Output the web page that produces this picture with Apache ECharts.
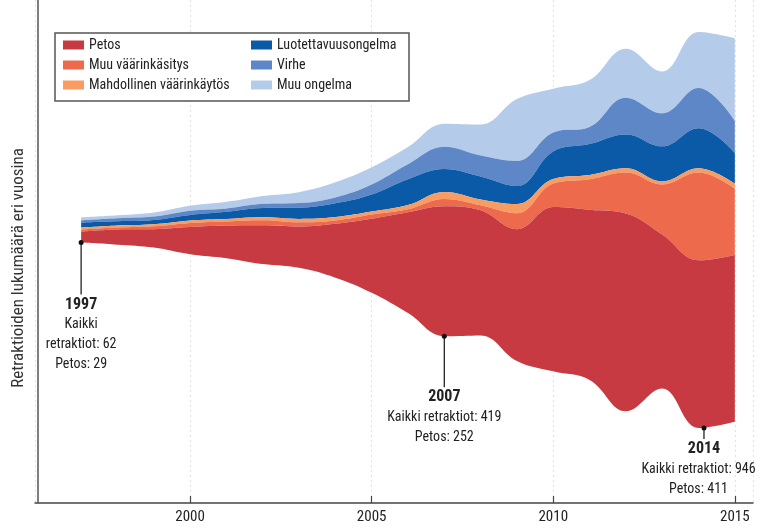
<!DOCTYPE html>
<html><head><meta charset="utf-8">
<script src="https://cdn.jsdelivr.net/npm/echarts@6/dist/echarts.min.js"></script>
<style>html,body{margin:0;padding:0;background:#fff}#c{width:761px;height:531px}</style>
</head><body><div id="c"></div>
<script>
// ---- data ----
const years = [1997,1998,1999,2000,2001,2002,2003,2004,2005,2006,2007,2008,2009,2010,2011,2012,2013,2014,2015];
// layers listed top -> bottom of the stream
const muuOngelma          = [7, 7, 10, 12, 16, 19, 26, 36, 41, 41, 55, 74, 148, 105, 112, 117, 100, 134, 198];
const virhe               = [5, 7, 8, 10, 8, 10, 11, 14, 24, 36, 53, 50, 60, 45, 41, 88, 79, 96, 76];
const luotettavuus        = [12, 10, 10, 13, 17, 22, 27, 33, 41, 62, 55, 55, 43, 66, 74, 81, 84, 96, 74];
const mahdollinen         = [5, 5, 5, 6, 6, 7, 8, 8, 7, 10, 17, 14, 22, 11, 10, 10, 7, 10, 12];
const muuVaarinkasitys    = [5, 5, 7, 10, 10, 12, 10, 8, 10, 7, 17, 12, 38, 56, 73, 98, 120, 210, 158];
const petos               = [26, 36, 44, 65, 78, 93, 99, 129, 177, 241, 311, 299, 315, 393, 407, 473, 368, 401, 399];
const layerNames = ['Muu ongelma','Virhe','Luotettavuusongelma','Mahdollinen väärinkäytös','Muu väärinkäsitys','Petos'];
const layerColors = ['#b5cbea','#5d87c6','#0b5aa8','#f89c62','#ee6a4c','#c73a41'];
const legendCol1 = ['Petos','Muu väärinkäsitys','Mahdollinen väärinkäytös'];
const legendCol2 = ['Luotettavuusongelma','Virhe','Muu ongelma'];
const annotations = [
  {year: 1997, at: 1997, title: '1997', lines: ['Kaikki', 'retraktiot: 62', 'Petos: 29'], stem: 52},
  {year: 2007, at: 2007, title: '2007', lines: ['Kaikki retraktiot: 419', 'Petos: 252'], stem: 51},
  {year: 2014, at: 2014.15, textAt: 2014.0, title: '2014', lines: ['Kaikki retraktiot: 946', 'Petos: 411'], stem: 11}
];
const yTitle = 'Retraktioiden lukumäärä eri vuosina';

// ---- build ----
const layers = [muuOngelma, virhe, luotettavuus, mahdollinen, muuVaarinkasitys, petos];
const riverData = [];
layers.forEach((vals, li) => vals.forEach((v, i) => riverData.push([years[i], v, layerNames[li]])));

const FONT = "'Roboto Condensed','Liberation Sans',sans-serif";
const axisLeft = 35, axisRight = 8, axisTop = 0, axisBottom = 28;
const W = 761, H = 531;
const axisHeight = H - axisTop - axisBottom;
const gapTop = 32, gapBottom = 75;
const xMin = 1995.73, xMax = 2015.5;

const chart = echarts.init(document.getElementById('c'), null, {renderer: 'canvas'});
const legendBase = {orient: 'vertical', top: 38, padding: 0, itemWidth: 21, itemHeight: 9, itemGap: 6,
  icon: 'rect', selectedMode: false, z: 10, textStyle: {fontFamily: FONT, fontSize: 14, color: '#222'}};
const option = {
  animation: false,
  backgroundColor: '#fff',
  color: layerColors,
  textStyle: {fontFamily: FONT},
  singleAxis: {
    type: 'value', left: axisLeft, right: axisRight, top: axisTop, bottom: axisBottom,
    min: xMin, max: xMax, splitNumber: 4,
    axisLine: {show: true, lineStyle: {color: '#444', width: 1.5}},
    axisTick: {show: true, inside: true, length: 7, lineStyle: {color: '#444', width: 1.2}},
    axisLabel: {showMinLabel: false, showMaxLabel: false, margin: 7, color: '#222', fontSize: 15, fontFamily: FONT,
      formatter: v => String(Math.round(v))},
    splitLine: {show: true, showMinLine: false, showMaxLine: false, lineStyle: {color: '#6a6a6a', width: 1, type: [2, 3]}}
  },
  legend: [
    Object.assign({data: legendCol1, left: 63}, legendBase),
    Object.assign({data: legendCol2, left: 251}, legendBase)
  ],
  series: [{
    type: 'themeRiver', singleAxisIndex: 0, boundaryGap: [gapTop, gapBottom],
    label: {show: false}, emphasis: {disabled: true}, data: riverData
  }]
};
chart.setOption(option);

// annotations tied to the data
const totals = years.map((_, i) => layers.reduce((s, l) => s + l[i], 0));
const maxTotal = Math.max(...totals);
const ky = (axisHeight - gapTop - gapBottom) / maxTotal;
function xOf(year) {
  try { const p = chart.convertToPixel({singleAxisIndex: 0}, year); if (Array.isArray(p)) return p[0]; if (typeof p === 'number') return p; } catch (e) {}
  return axisLeft + (year - xMin) / (xMax - xMin) * (W - axisLeft - axisRight);
}
const graphics = [
  {type: 'rect', z: 5, shape: {x: 55, y: 33, width: 354, height: 68}, style: {fill: '#fff', stroke: '#555', lineWidth: 1.5}},
  {type: 'line', z: 6, shape: {x1: 38, y1: 0, x2: 38, y2: H - axisBottom}, style: {stroke: '#555', lineWidth: 1.5}},
  {type: 'text', z: 6, x: 19, y: 268, rotation: Math.PI / 2,
    style: {text: yTitle, fill: '#333', font: '17px ' + FONT, textAlign: 'center', textVerticalAlign: 'middle'}}
];
annotations.forEach(a => {
  const i = years.indexOf(a.year);
  const by = axisTop + gapTop + ((maxTotal - totals[i]) / 2 + totals[i]) * ky;
  const x = xOf(a.at);
  const tx = a.textAt !== undefined ? xOf(a.textAt) : x;
  graphics.push({type: 'line', z: 6, shape: {x1: x, y1: by, x2: x, y2: by + a.stem}, style: {stroke: '#222', lineWidth: 1.3}});
  graphics.push({type: 'circle', z: 7, shape: {cx: x, cy: by, r: 2.5}, style: {fill: '#111'}});
  let y = by + a.stem + 10;
  graphics.push({type: 'text', z: 6, x: x, y: y, style: {text: a.title, fill: '#222', font: 'bold 16px ' + FONT, textAlign: 'center', textVerticalAlign: 'middle'}});
  a.lines.forEach(t => {
    y += 20;
    graphics.push({type: 'text', z: 6, x: tx, y: y, style: {text: t, fill: '#222', font: '14px ' + FONT, textAlign: 'center', textVerticalAlign: 'middle'}});
  });
});
chart.setOption({graphic: graphics});
</script></body></html>
